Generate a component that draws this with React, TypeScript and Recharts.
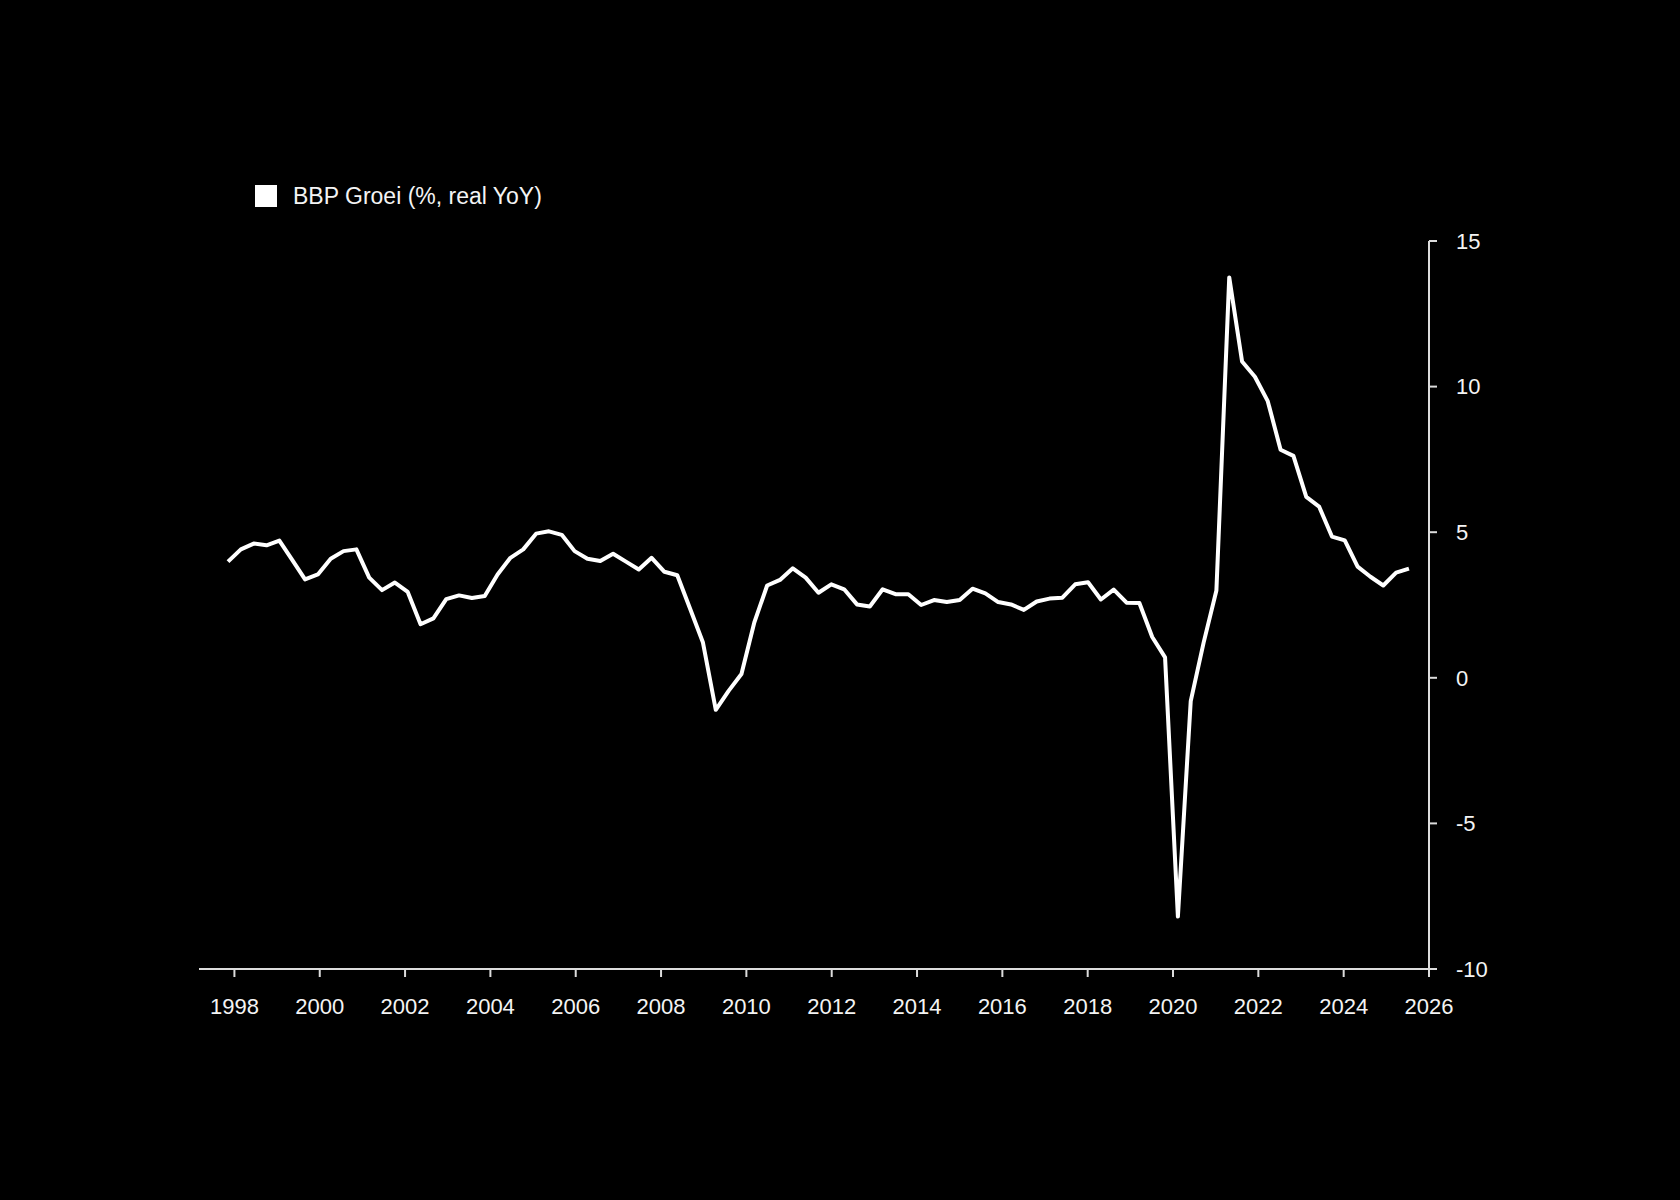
import React from "react";
import { LineChart, Line, XAxis, YAxis } from "recharts";

// page background: the reference is a full-bleed black canvas
document.body.style.margin = "0";
document.body.style.background = "#000";

const SERIES_NAME = "BBP Groei (%, real YoY)";

// first and last observation (decimal years), points are evenly spaced between them
const FIRST_T = 1997.85;
const LAST_T = 2025.53;

const GROWTH_1997_2002 = [3.99, 4.41, 4.61, 4.55, 4.71, 4.05, 3.38, 3.55, 4.09, 4.35, 4.41, 3.44, 3.01, 3.27, 2.95, 1.84, 2.04];
const GROWTH_2003_2008 = [2.7, 2.83, 2.74, 2.81, 3.55, 4.12, 4.41, 4.95, 5.03, 4.91, 4.35, 4.09, 4.01, 4.26, 3.99, 3.72, 4.12, 3.64, 3.52];
const GROWTH_2009_2013 = [2.37, 1.21, -1.1, -0.45, 0.13, 1.9, 3.17, 3.36, 3.76, 3.44, 2.92, 3.21, 3.04, 2.52, 2.45, 3.04, 2.87, 2.87];
const GROWTH_2014_2019 = [2.5, 2.67, 2.6, 2.67, 3.06, 2.9, 2.6, 2.52, 2.33, 2.62, 2.72, 2.75, 3.21, 3.28, 2.69, 3.03, 2.58, 2.57, 1.4, 0.7];
const GROWTH_2020_2025 = [-8.2, -0.8, 1.2, 3.0, 13.75, 10.86, 10.34, 9.5, 7.83, 7.62, 6.21, 5.88, 4.85, 4.72, 3.82, 3.47, 3.17, 3.61, 3.75];

const X_TICKS = [1998, 2000, 2002, 2004, 2006, 2008, 2010, 2012, 2014, 2016, 2018, 2020, 2022, 2024, 2026];
const Y_TICKS = [-10, -5, 0, 5, 10, 15];

const VALUES = [
  ...GROWTH_1997_2002,
  ...GROWTH_2003_2008,
  ...GROWTH_2009_2013,
  ...GROWTH_2014_2019,
  ...GROWTH_2020_2025,
];

const data = VALUES.map((v, i) => ({
  t: FIRST_T + (i * (LAST_T - FIRST_T)) / (VALUES.length - 1),
  groei: v,
}));

const FONT = "'Liberation Sans', Arial, Helvetica, sans-serif";
const AXIS = "#dcdcdc";
const TEXT = "#f4f4f4";

export default function App() {
  return (
    <div style={{ position: "relative", width: 1680, height: 1200, background: "#000", fontFamily: FONT }}>
      <div style={{ position: "absolute", left: 255, top: 185, display: "flex", alignItems: "center", height: 22 }}>
        <div style={{ width: 22, height: 22, background: "#fff" }} />
        <span style={{ marginLeft: 16, color: TEXT, fontSize: 23, lineHeight: "22px" }}>{SERIES_NAME}</span>
      </div>
      <LineChart
        width={1680}
        height={1200}
        data={data}
        margin={{ top: 241, right: 171, bottom: 171, left: 199 }}
      >
        <XAxis
          type="number"
          dataKey="t"
          domain={[1997.17, 2026]}
          ticks={X_TICKS}
          height={60}
          tickSize={8}
          tickMargin={21}
          axisLine={{ stroke: AXIS, strokeWidth: 2 }}
          tickLine={{ stroke: AXIS, strokeWidth: 2 }}
          tick={{ fill: TEXT, fontSize: 22, fontFamily: FONT }}
        />
        <YAxis
          orientation="right"
          type="number"
          domain={[-10, 15]}
          ticks={Y_TICKS}
          width={80}
          tickSize={8}
          tickMargin={19}
          axisLine={{ stroke: AXIS, strokeWidth: 2 }}
          tickLine={{ stroke: AXIS, strokeWidth: 2 }}
          tick={{ fill: TEXT, fontSize: 22, fontFamily: FONT, textAnchor: "start" }}
        />
        <Line
          type="linear"
          dataKey="groei"
          name={SERIES_NAME}
          stroke="#ffffff"
          strokeWidth={4}
          strokeLinejoin="round"
          dot={false}
          activeDot={false}
          isAnimationActive={false}
        />
      </LineChart>
    </div>
  );
}
